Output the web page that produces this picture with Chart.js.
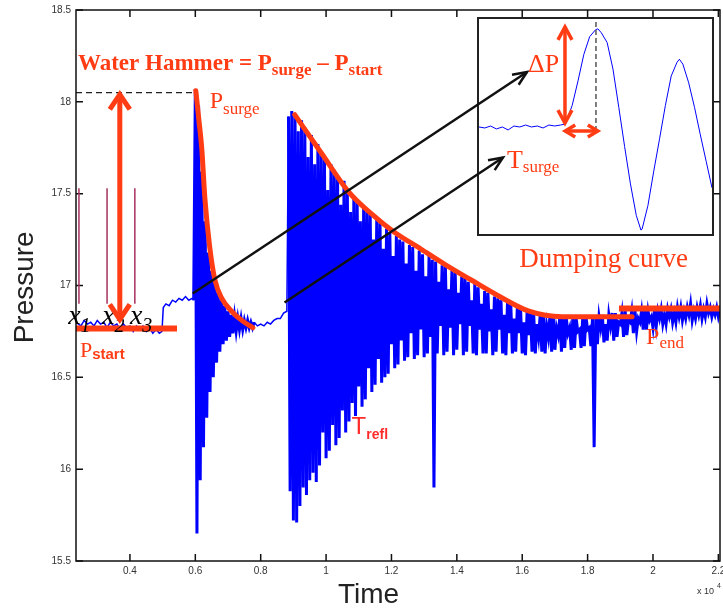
<!DOCTYPE html>
<html>
<head>
<meta charset="utf-8">
<title>Water hammer</title>
<script src="https://cdn.jsdelivr.net/npm/chart.js@4.4.1/dist/chart.umd.min.js"></script>
<style>
    body { margin: 0; background: #fff; }
    #wrap { position: relative; width: 723px; height: 612px; overflow: hidden; }
    #wrap > canvas { position: absolute; left: 0; top: 0; }
    #insetBox { position: absolute; left: 477px; top: 17px; width: 237px; height: 219px; box-sizing: border-box; border: 2px solid #222; background: #fff; }
    #insetBox canvas { position: absolute; left: 0; top: 0; }
</style>
</head>
<body>
<div id="wrap">
    <canvas id="mainChart" width="723" height="612"></canvas>
    <div id="insetBox"><canvas id="insetChart" width="233" height="215"></canvas></div>
    <canvas id="notes" width="723" height="612"></canvas>
</div>
<script>
var RED = '#ff3c14';
var BLUE = '#0000ff';

// time is in units of 10^4
var timeTicks = [0.4, 0.6, 0.8, 1, 1.2, 1.4, 1.6, 1.8, 2, 2.2];
var timeTickLabels = ['0.4', '0.6', '0.8', '1', '1.2', '1.4', '1.6', '1.8', '2', '2.2'];
var pressureTicks = [15.5, 16, 16.5, 17, 17.5, 18, 18.5];
var pressureTickLabels = ['15.5', '16', '16.5', '17', '17.5', '18', '18.5'];

// steady level before anything happens
var startTimes = [0.235, 0.25, 0.26, 0.27, 0.28, 0.29, 0.30, 0.31, 0.32, 0.33, 0.34, 0.35, 0.36, 0.37, 0.38, 0.39, 0.40, 0.41, 0.42, 0.43, 0.44, 0.45, 0.46, 0.47, 0.48, 0.49, 0.498];
var startPressure = [16.80, 16.78, 16.81, 16.79, 16.80, 16.78, 16.81, 16.79, 16.80, 16.77, 16.80, 16.78, 16.79, 16.76, 16.79, 16.77, 16.78, 16.75, 16.78, 16.76, 16.78, 16.75, 16.77, 16.74, 16.76, 16.74, 16.75];

// small step up before the closure
var stepTimes = [0.502, 0.51, 0.52, 0.53, 0.54, 0.55, 0.56, 0.57, 0.58, 0.59];
var stepPressure = [16.88, 16.90, 16.89, 16.92, 16.91, 16.93, 16.92, 16.94, 16.92, 16.93];

// logger samples inside the two oscillation bursts
var sampleStep = 0.005;

// first surge
var surgeStart = 0.595;
var surgePressure = [16.92, 18.07, 15.65, 17.98, 15.94, 17.62, 16.12, 17.35, 16.28, 17.18,
    16.42, 17.08, 16.50, 17.02, 16.58, 16.96, 16.64, 16.92, 16.68, 16.89,
    16.70, 16.86, 16.72, 16.84, 16.74, 16.83, 16.75, 16.82, 16.76, 16.82,
    16.76, 16.81, 16.77, 16.81, 16.77, 16.80, 16.77, 16.80];

// calm part between the surges
var calmTimes = [0.79, 0.80, 0.81, 0.82, 0.83, 0.84, 0.85, 0.86, 0.87, 0.88];
var calmPressure = [16.78, 16.79, 16.78, 16.80, 16.79, 16.81, 16.82, 16.82, 16.85, 16.86];

// second surge with the long damped train
var trainStart = 0.885;
var trainPressure = [
    17.92, 15.88, 17.95, 15.72, 17.93, 15.71, 17.84, 15.80, 17.90, 15.90,
    17.86, 15.86, 17.70, 15.94, 17.82, 15.98, 17.66, 15.93, 17.77, 16.02,
    17.72, 16.20, 17.70, 16.06, 17.52, 16.10, 17.66, 16.24, 17.63, 16.13,
    17.60, 16.17, 17.44, 16.32, 17.57, 16.20, 17.52, 16.26, 17.40, 16.36,
    17.48, 16.29, 17.46, 16.45, 17.35, 16.34, 17.43, 16.38, 17.41, 16.55,
    17.39, 16.42, 17.25, 16.46, 17.36, 16.60, 17.34, 16.47, 17.20, 16.50,
    17.31, 16.52, 17.29, 16.68, 17.16, 16.55, 17.27, 16.57, 17.25, 16.70,
    17.24, 16.59, 17.12, 16.61, 17.22, 16.74, 17.21, 16.60, 17.08, 16.62,
    17.19, 16.76, 17.17, 16.61, 17.05, 16.63, 17.16, 16.72, 17.14, 15.90,
    17.13, 16.63, 17.02, 16.78, 17.11, 16.62, 17.10, 16.64, 16.98, 16.77,
    17.08, 16.62, 17.07, 16.65, 16.96, 16.79, 17.05, 16.62, 17.04, 16.64,
    17.02, 16.78, 16.92, 16.63, 17.01, 16.62, 16.99, 16.76, 16.90, 16.63,
    16.97, 16.63, 16.96, 16.75, 16.87, 16.62, 16.94, 16.64, 16.93, 16.76,
    16.92, 16.63, 16.84, 16.62, 16.91, 16.74, 16.90, 16.63, 16.82, 16.64,
    16.88, 16.74, 16.87, 16.63, 16.80, 16.62, 16.86, 16.73, 16.85, 16.64,
    16.85, 16.63, 16.79, 16.72, 16.84, 16.64, 16.84, 16.63, 16.78, 16.72,
    16.84, 16.64, 16.83, 16.65, 16.77, 16.73, 16.83, 16.64, 16.83, 16.66,
    16.82, 16.74, 16.77, 16.65, 16.83, 16.66, 16.82, 16.75, 16.76, 16.66,
    16.82, 16.67, 16.83, 16.76, 16.77, 16.67, 16.82, 16.12, 16.83, 16.68,
    16.83, 16.77, 16.84, 16.69, 16.79, 16.70, 16.84, 16.78, 16.85, 16.70,
    16.85, 16.72, 16.80, 16.79, 16.85, 16.72, 16.86, 16.73, 16.81, 16.80,
    16.86, 16.74, 16.86, 16.75, 16.82, 16.80, 16.86, 16.76, 16.87, 16.76,
    16.86, 16.81, 16.83, 16.77, 16.87, 16.78, 16.86, 16.82, 16.87, 16.79,
    16.84, 16.79, 16.87, 16.83, 16.87, 16.80, 16.85, 16.80, 16.88, 16.83,
    16.88, 16.81, 16.86, 16.82, 16.88, 16.84, 16.90, 16.81, 16.86, 16.82,
    16.88, 16.84, 16.89, 16.82, 16.87, 16.83, 16.90, 16.85, 16.88, 16.83,
    16.87, 16.84, 16.88, 16.83, 16.87];

// red hand-drawn fits
var surgeFitTimes = [0.6015, 0.611, 0.620, 0.629, 0.644, 0.660, 0.681, 0.711, 0.742, 0.776];
var surgeFitPressure = [18.06, 17.90, 17.74, 17.48, 17.21, 17.03, 16.93, 16.86, 16.81, 16.77];
var dampFitTimes = [0.904, 0.986, 1.069, 1.139, 1.209, 1.289, 1.368, 1.444, 1.521, 1.621, 1.722, 1.936];
var dampFitPressure = [17.93, 17.72, 17.51, 17.39, 17.29, 17.20, 17.11, 17.03, 16.95, 16.86, 16.83, 16.83];
var startLevelTimes = [0.232, 0.544];
var startLevel = 16.766;
var endLevelTimes = [1.896, 2.215];
var endLevel = 16.875;
var surgeLevelTimes = [0.235, 0.600];
var surgeLevel = 18.05;

// zoomed first oscillation (inset, arbitrary units)
var insetTimes = [0, 2.5, 5, 7.5, 10, 12.5, 15, 17.5, 20, 22.5, 25, 27.5, 30, 32.5, 35, 37,
    40, 42.5, 45, 47.5, 50, 51, 52.5, 55, 57.5, 60, 62.5, 65, 67.5, 69.5, 70, 72.5, 75,
    77.5, 80, 82.5, 85, 86, 87.5, 90, 92.5, 95, 97.5, 100];
var insetPressure = [0, -0.01, 0.01, -0.02, 0, -0.03, 0.01, 0, 0.02, 0, 0.01, -0.01, 0.02, 0.01, 0.02, 0.03,
    0.22, 0.47, 0.74, 0.92, 0.99, 1.0, 0.96, 0.86, 0.59, 0.2, -0.2, -0.58, -0.9, -1.05, -1.04, -0.8, -0.45,
    -0.12, 0.22, 0.52, 0.66, 0.69, 0.64, 0.45, 0.2, -0.08, -0.35, -0.62];

function points(times, values) {
    var out = [];
    for (var i = 0; i < times.length; i++) {
        out.push({ x: times[i], y: values[i] });
    }
    return out;
}

function sampled(start, values) {
    var out = [];
    for (var i = 0; i < values.length; i++) {
        out.push({ x: start + i * sampleStep, y: values[i] });
    }
    return out;
}

function level(times, value) {
    return [{ x: times[0], y: value }, { x: times[1], y: value }];
}

var pressureSeries = [].concat(
    points(startTimes, startPressure),
    points(stepTimes, stepPressure),
    sampled(surgeStart, surgePressure),
    points(calmTimes, calmPressure),
    sampled(trainStart, trainPressure)
);

// the bursts are drawn heavier so that the dense oscillation fills in
var burstSpans = [
    [surgeStart, surgeStart + surgePressure.length * sampleStep],
    [trainStart, trainStart + trainPressure.length * sampleStep]
];
function inBurst(t) {
    for (var i = 0; i < burstSpans.length; i++) {
        if (t >= burstSpans[i][0] && t <= burstSpans[i][1]) return true;
    }
    return false;
}

/**
 * Frame round the plot with ticks pointing inside, like the original figure
 */
var framePlugin = {
    id: 'frame',
    afterDraw: function (chart) {
        var ctx = chart.ctx;
        var a = chart.chartArea;
        var xs = chart.scales.x, ys = chart.scales.y;
        ctx.save();
        ctx.strokeStyle = '#111';
        ctx.lineWidth = 1.5;
        ctx.strokeRect(a.left, a.top, a.right - a.left, a.bottom - a.top);
        ctx.beginPath();
        timeTicks.forEach(function (t) {
            var x = xs.getPixelForValue(t);
            ctx.moveTo(x, a.bottom); ctx.lineTo(x, a.bottom - 7);
            ctx.moveTo(x, a.top); ctx.lineTo(x, a.top + 7);
        });
        pressureTicks.forEach(function (p) {
            var y = ys.getPixelForValue(p);
            ctx.moveTo(a.left, y); ctx.lineTo(a.left + 7, y);
            ctx.moveTo(a.right, y); ctx.lineTo(a.right - 7, y);
        });
        ctx.stroke();
        ctx.restore();
    }
};

var tickFont = { family: '"Liberation Sans", Arial, sans-serif', size: 10 };

var mainChart = new Chart(document.getElementById('mainChart'), {
    type: 'line',
    data: {
        datasets: [
            { data: points(surgeFitTimes, surgeFitPressure), borderColor: RED, borderWidth: 5, cubicInterpolationMode: 'monotone', borderCapStyle: 'round' },
            { data: points(dampFitTimes, dampFitPressure), borderColor: RED, borderWidth: 5, cubicInterpolationMode: 'monotone', borderCapStyle: 'round' },
            { data: level(startLevelTimes, startLevel), borderColor: RED, borderWidth: 6 },
            { data: level(endLevelTimes, endLevel), borderColor: RED, borderWidth: 6 },
            { data: level(surgeLevelTimes, surgeLevel), borderColor: '#222', borderWidth: 1.3, borderDash: [6, 4] },
            {
                data: pressureSeries, borderColor: BLUE, borderWidth: 1.5,
                segment: {
                    borderWidth: function (c) { return inBurst(c.p0.parsed.x) && inBurst(c.p1.parsed.x) ? 3 : 1.5; }
                }
            }
        ]
    },
    options: {
        responsive: false,
        animation: false,
        events: [],
        layout: { padding: { left: 0, top: 10, right: 3, bottom: 0 } },
        elements: { point: { radius: 0 }, line: { tension: 0 } },
        plugins: { legend: { display: false }, tooltip: { enabled: false } },
        scales: {
            x: {
                type: 'linear', min: 0.235, max: 2.205,
                grid: { display: false, drawTicks: false },
                border: { display: false },
                afterBuildTicks: function (s) { s.ticks = timeTicks.map(function (v) { return { value: v }; }); },
                afterFit: function (s) { s.height = 51; s.paddingLeft = 0; s.paddingRight = 0; },
                ticks: {
                    padding: 4, autoSkip: false, maxRotation: 0, color: '#333', font: tickFont,
                    callback: function (v, i) { return timeTickLabels[i]; }
                }
            },
            y: {
                min: 15.5, max: 18.5,
                grid: { display: false, drawTicks: false },
                border: { display: false },
                afterBuildTicks: function (s) { s.ticks = pressureTicks.map(function (v) { return { value: v }; }); },
                afterFit: function (s) { s.width = 76; s.paddingTop = 0; s.paddingBottom = 0; },
                ticks: {
                    padding: 5, autoSkip: false, color: '#333', font: tickFont,
                    callback: function (v, i) { return pressureTickLabels[i]; }
                }
            }
        }
    },
    plugins: [framePlugin]
});

var insetChart = new Chart(document.getElementById('insetChart'), {
    type: 'line',
    data: {
        datasets: [{ data: points(insetTimes, insetPressure), borderColor: BLUE, borderWidth: 1 }]
    },
    options: {
        responsive: false,
        animation: false,
        events: [],
        layout: { padding: 0 },
        elements: { point: { radius: 0 }, line: { tension: 0 } },
        plugins: { legend: { display: false }, tooltip: { enabled: false } },
        scales: {
            x: { type: 'linear', display: false, min: 0, max: 100 },
            y: { display: false, min: -1.09, max: 1.10 }
        }
    }
});

// ---- annotations on top of both charts ----
var notes = document.getElementById('notes').getContext('2d');
var insetCanvas = document.getElementById('insetChart');
var wrapBox = document.getElementById('wrap').getBoundingClientRect();
var insetBox = insetCanvas.getBoundingClientRect();
var insetLeft = insetBox.left - wrapBox.left;
var insetTop = insetBox.top - wrapBox.top;

function mx(t) { return mainChart.scales.x.getPixelForValue(t); }
function my(p) { return mainChart.scales.y.getPixelForValue(p); }
function ix(u) { return insetLeft + insetChart.scales.x.getPixelForValue(u); }
function iy(v) { return insetTop + insetChart.scales.y.getPixelForValue(v); }

var SERIF = '"Liberation Serif", "Times New Roman", serif';
var SANS = '"Liberation Sans", Arial, sans-serif';

function head(ctx, x0, y0, x1, y1, len, half) {
    var a = Math.atan2(y1 - y0, x1 - x0);
    var c = Math.cos(a), s = Math.sin(a);
    ctx.beginPath();
    ctx.moveTo(x1 - len * c + half * s, y1 - len * s - half * c);
    ctx.lineTo(x1, y1);
    ctx.lineTo(x1 - len * c - half * s, y1 - len * s + half * c);
    ctx.stroke();
}

function arrow(ctx, x0, y0, x1, y1, len, half, both) {
    ctx.beginPath();
    ctx.moveTo(x0, y0);
    ctx.lineTo(x1, y1);
    ctx.stroke();
    head(ctx, x0, y0, x1, y1, len, half);
    if (both) head(ctx, x1, y1, x0, y0, len, half);
}

function subText(ctx, x, y, base, sub, baseFont, subFont, drop) {
    ctx.font = baseFont;
    ctx.fillText(base, x, y);
    var w = ctx.measureText(base).width;
    ctx.font = subFont;
    ctx.fillText(sub, x + w, y + drop);
    return x + w + ctx.measureText(sub).width;
}

var ctx = notes;
ctx.lineJoin = 'miter';
ctx.textBaseline = 'alphabetic';

// axis titles
ctx.fillStyle = '#222';
ctx.font = '28px ' + SANS;
ctx.textAlign = 'center';
ctx.fillText('Time', mx(1.13), 603);
ctx.save();
ctx.translate(33, my(16.99));
ctx.rotate(-Math.PI / 2);
ctx.fillText('Pressure', 0, 0);
ctx.restore();
ctx.textAlign = 'left';
ctx.font = '9px ' + SANS;
ctx.fillStyle = '#333';
ctx.fillText('x 10', 697, 594);
ctx.font = '7px ' + SANS;
ctx.fillText('4', 717, 588);

// sample markers x1 x2 x3
ctx.strokeStyle = '#a8305e';
ctx.lineWidth = 1.5;
[0.244, 0.330, 0.415].forEach(function (t) {
    ctx.beginPath();
    ctx.moveTo(mx(t), my(17.53));
    ctx.lineTo(mx(t), my(16.90));
    ctx.stroke();
});
ctx.fillStyle = '#000';
[['x', '1', 0.211], ['x', '2', 0.315], ['x', '3', 0.400]].forEach(function (m) {
    subText(ctx, mx(m[2]), my(16.793), m[0], m[1], 'italic 28px ' + SERIF, 'italic 20px ' + SERIF, 8);
});

// black arrows into the inset
ctx.strokeStyle = '#111';
ctx.lineWidth = 2.5;
arrow(ctx, mx(0.592), my(16.956), ix(20.6), iy(0.56), 14, 6, false);
arrow(ctx, mx(0.873), my(16.907), ix(10.3), iy(-0.31), 14, 6, false);

// water hammer height
ctx.strokeStyle = RED;
ctx.lineWidth = 5;
arrow(ctx, mx(0.369), my(16.815), mx(0.369), my(18.04), 15, 10, true);

// inset marks
ctx.strokeStyle = '#555';
ctx.lineWidth = 1.5;
ctx.setLineDash([5, 3]);
ctx.beginPath();
ctx.moveTo(ix(50.2), iy(1.07));
ctx.lineTo(ix(50.2), iy(-0.05));
ctx.stroke();
ctx.setLineDash([]);
ctx.strokeStyle = RED;
ctx.lineWidth = 3.5;
arrow(ctx, ix(36.9), iy(0.04), ix(36.9), iy(1.02), 13, 7, true);
arrow(ctx, ix(37), iy(-0.04), ix(51), iy(-0.04), 10, 6, true);

// labels
ctx.fillStyle = RED;
var x = mx(0.241), y = my(18.171);
x = subText(ctx, x, y, 'Water Hammer = P', 'surge', 'bold 23px ' + SERIF, 'bold 17px ' + SERIF, 5);
subText(ctx, x, y, ' \u2013 P', 'start', 'bold 23px ' + SERIF, 'bold 17px ' + SERIF, 5);
subText(ctx, mx(0.644), my(17.964), 'P', 'surge', '24px ' + SERIF, '17px ' + SERIF, 6);
subText(ctx, mx(0.247), my(16.608), 'P', 'start', '22px ' + SERIF, 'bold 15px ' + SANS, 2);
subText(ctx, mx(1.979), my(16.684), 'P', 'end', '24px ' + SERIF, '17px ' + SERIF, 4);
ctx.font = '27px ' + SERIF;
ctx.fillText('Dumping curve', mx(1.591), my(17.103));
ctx.font = '26px ' + SERIF;
ctx.fillText('\u0394P', ix(21.0), iy(0.56));
subText(ctx, ix(12.0), iy(-0.42), 'T', 'surge', '26px ' + SERIF, '17px ' + SERIF, 4);
ctx.fillStyle = '#ff2a2a';
subText(ctx, mx(1.078), my(16.194), 'T', 'refl', '24px ' + SANS, 'bold 14px ' + SANS, 5);
</script>
</body>
</html>
